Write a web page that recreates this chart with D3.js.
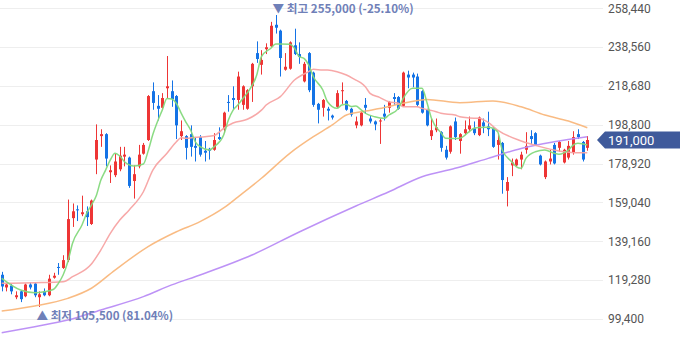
<!DOCTYPE html>
<html><head><meta charset="utf-8">
<script src="https://cdn.jsdelivr.net/npm/d3@7"></script>
<style>html,body{margin:0;padding:0;background:#fff;}svg{display:block;}</style>
</head><body>
<svg id="chart" width="680" height="358"></svg>
<script>
// ---- data ----
const opens  = [122000,115500,116500,110500,113500,111000,117000,117500,110500,113500,111500,120500,126000,125500,129500,151000,155500,153000,154500,148000,181000,193000,194000,174500,173000,176000,182500,182000,170000,177500,184000,191000,216000,208500,207500,217500,216000,213500,193000,193000,194000,188000,192500,185500,186500,186000,192500,196500,210500,212500,211500,209000,207000,218500,235500,229500,237500,239000,250000,247000,227000,227500,239500,235000,221000,235500,225500,209500,207500,207000,203500,208000,216000,211000,207000,198500,198500,209000,202000,200500,200500,204500,207500,213000,213000,208500,224500,224500,223500,216000,206500,193000,196000,195000,186000,185000,200500,190500,194500,196500,197000,193500,200000,198000,197000,188500,189500,165000,178000,178000,181000,186000,193000,194500,183000,172000,180000,188500,187000,179500,182000,184500,194000,190000,187000];
const highs  = [123500,117500,117500,113500,114000,117500,118000,118000,113500,115000,122000,123000,128000,132000,160500,158500,157500,162500,157000,160500,199000,196500,194500,178000,184000,187500,187500,182500,178000,188500,189500,214000,220500,214000,215000,234000,221500,214000,201000,193500,198500,192500,193500,190500,187000,194500,197500,205500,214000,218500,226000,219000,217000,230500,241500,237000,240500,251500,255000,247500,235500,241500,248000,241000,231000,236000,226000,210000,212000,208000,204000,216500,220500,211500,207500,203000,205500,212500,203500,201000,202000,209000,211000,215000,213500,226000,226500,225500,225000,216500,207000,202000,202000,195500,188000,198500,202500,194500,201000,203000,200500,203000,202000,205500,197500,194500,190000,172000,181500,181500,185000,195000,196000,195000,183500,180500,186000,189500,190500,186500,190500,195500,196500,190500,193000];
const lows   = [113500,113500,112000,109500,108000,110500,114500,110500,105500,111000,111000,120000,122000,125000,128500,146500,149500,152000,147000,147500,173500,187500,177500,169000,172000,175000,177500,166500,161000,176500,183500,190500,206500,201000,206500,212500,208000,191500,191000,181000,182500,180000,182500,180000,181000,185500,191000,194500,205500,206500,206500,206500,206500,210500,230500,224500,235000,238500,245500,223500,226500,227000,234500,230000,220500,215500,208000,199500,203000,201000,201500,207500,209500,206000,203000,197000,198000,204500,199500,196000,189000,201000,205000,209000,206500,208000,217500,218000,208000,204500,198000,191000,195000,185000,181000,184000,191000,184000,193500,195000,193500,193000,194500,193000,187000,181000,163500,157000,172500,177500,176000,184000,189000,188000,178000,171000,178500,178500,185000,179000,181000,183500,191500,180000,185500];
const closes = [116000,117000,113500,111500,109500,117000,115500,111500,112000,111500,120000,121500,125500,129500,150500,154500,155000,154000,151500,160000,191000,194000,181500,175500,180000,183000,183500,167500,173500,183500,188500,213500,210000,207000,212500,218500,212000,198500,195500,187000,187500,187000,183500,184500,185500,191000,191500,205000,210000,211500,223500,218500,216500,230000,232500,232000,238500,249500,248500,233000,228500,241000,235000,233500,230000,216500,209000,206500,211500,206000,202500,215000,216500,206500,204000,200500,205000,207500,200500,199000,201000,203000,210500,212000,207000,225500,223000,223000,209000,205000,198500,196000,197500,187000,182000,198000,192500,194000,196500,198500,194500,202500,198000,196500,187500,191000,170500,169500,179500,181000,183500,188000,191500,188500,178500,180000,181500,179000,190000,186000,188000,192500,192500,181000,191000];

// moving-average lines as [candle index, price]
const ma5 = [[0,120200],[4,114200],[7,112800],[9,113300],[11,114600],[12,117600],[13,121900],[14,128700],[15,138100],[17,147500],[18,153500],[19,157700],[20,162300],[21,170500],[22,175600],[23,180800],[24,184200],[25,182800],[26,179900],[28,177700],[30,178700],[31,185300],[32,193800],[33,200500],[34,206300],[35,212300],[36,212000],[37,209700],[38,204800],[39,200200],[40,196100],[41,190100],[42,187600],[44,185900],[45,187600],[47,193600],[48,201200],[49,206300],[50,208900],[51,212000],[52,215100],[54,224300],[55,233700],[57,238000],[58,240200],[59,240200],[61,240000],[62,238000],[63,233700],[64,232800],[65,229400],[66,223400],[68,216600],[69,210600],[71,207200],[72,208900],[73,209300],[74,208100],[75,208400],[76,206700],[77,204700],[79,202900],[81,202100],[82,203800],[84,207200],[85,212200],[87,217500],[89,217500],[90,210600],[91,202100],[93,194800],[94,191900],[96,191800],[97,191900],[99,195300],[100,197000],[101,197400],[103,197500],[105,195300],[106,185900],[108,179900],[109,177300],[110,176500],[111,181600],[113,185000],[115,185900],[117,184200],[118,183700],[120,185900],[121,188400],[122,189300],[124,188400]];
const ma20 = [[0,117600],[7,117900],[13,118400],[15,121000],[19,127500],[21,134700],[23,143200],[25,150000],[27,155200],[30,164500],[32,175600],[35,184200],[37,190100],[38,192200],[39,191900],[41,192400],[43,192700],[45,193300],[47,197000],[49,199700],[52,201600],[55,206300],[56,208900],[59,213200],[62,221700],[65,226000],[66,227200],[68,226800],[69,226800],[71,226000],[73,224300],[75,221700],[76,220400],[77,218300],[78,214900],[80,212800],[82,210600],[84,209800],[85,208000],[88,208000],[89,207200],[92,205500],[93,204700],[96,203800],[97,202900],[99,202300],[101,202100],[103,200000],[105,196100],[110,190500],[114,187600],[118,185400],[122,184500],[124,184500]];
const ma60 = [[0,103400],[7,106000],[14,109900],[19,115100],[24,124400],[31,136400],[37,144000],[42,149200],[47,156200],[50,161800],[55,171400],[61,184200],[66,192700],[70,198700],[73,203800],[77,205800],[80,207100],[85,209800],[90,211800],[97,210100],[104,211000],[110,208000],[115,203800],[120,200700],[124,197300]];
const ma120 = [[0,92300],[7,95400],[14,98800],[21,104000],[30,110800],[36,116800],[42,121900],[53,132100],[63,143900],[75,157200],[82,164500],[89,172200],[96,176500],[103,181600],[110,186700],[117,190100],[124,192700]];

const yTicks = [99400,119280,139160,159040,178920,198800,218680,238560,258440];
const highLabel = "▼ 최고 255,000 (-25.10%)";
const lowLabel  = "▲ 최저 105,500 (81.04%)";

// ---- drawing ----
const svg = d3.select("#chart");
const n = closes.length;
const x = d3.scaleBand().domain(d3.range(n)).range([-0.66, 589.66]);
const bw = x.bandwidth();
const cx = i => x(i) + bw / 2;
const y = d3.scaleLinear().domain([99400, 258440]).range([318.9, 8.3]);

const RED = "#ee3535", BLUE = "#1473e6";

// grid
svg.append("g").selectAll("line").data(yTicks).join("line")
  .attr("x1", 0).attr("x2", 603)
  .attr("y1", d => Math.round(y(d)) + 0.5).attr("y2", d => Math.round(y(d)) + 0.5)
  .attr("stroke", "#eeeeee").attr("stroke-width", 1);

// axis labels
const axis = d3.axisRight(y).tickValues(yTicks).tickSize(0).tickPadding(0)
  .tickFormat(d3.format(","));
const ag = svg.append("g").attr("transform", "translate(608,0)").call(axis);
ag.select(".domain").remove();
ag.selectAll("text").attr("font-family", "Roboto, 'Noto Sans', sans-serif")
  .attr("font-size", 12).attr("fill", "#555").attr("x", 0);

// candles
const cg = svg.append("g");
const idx = d3.range(n);
cg.selectAll("line").data(idx).join("line")
  .attr("x1", i => Math.round(cx(i)) + 0.5).attr("x2", i => Math.round(cx(i)) + 0.5)
  .attr("y1", i => y(highs[i])).attr("y2", i => y(lows[i]))
  .attr("stroke", i => closes[i] >= opens[i] ? RED : BLUE).attr("stroke-width", 1);
cg.selectAll("rect").data(idx).join("rect")
  .attr("x", i => Math.round(cx(i)) - 1).attr("width", 3)
  .attr("y", i => y(Math.max(opens[i], closes[i])))
  .attr("height", i => Math.max(1, Math.abs(y(opens[i]) - y(closes[i]))))
  .attr("fill", i => closes[i] >= opens[i] ? RED : BLUE);

// moving averages
const line = d3.line().x(d => cx(d[0])).y(d => y(d[1])).curve(d3.curveMonotoneX);
[[ma120, "#b98cf6"], [ma60, "#f9b77c"], [ma20, "#f7a3a3"], [ma5, "#84d97c"]].forEach(([data, col]) => {
  svg.append("path").datum(data).attr("d", line)
    .attr("fill", "none").attr("stroke", col).attr("stroke-width", 1.5).attr("stroke-opacity", 0.95);
});

// high / low labels
const iHigh = d3.maxIndex(highs), iLow = d3.minIndex(lows);
const lblFont = "'Noto Sans CJK KR', 'Noto Sans', sans-serif";
svg.append("text").attr("x", cx(iHigh) - 3).attr("y", 13)
  .attr("font-family", lblFont).attr("font-size", 11.6).attr("font-weight", "bold")
  .attr("fill", "#6f80b8").text(highLabel);
svg.append("text").attr("x", cx(iLow) - 3).attr("y", 320)
  .attr("font-family", lblFont).attr("font-size", 11.6).attr("font-weight", "bold")
  .attr("fill", "#6f80b8").text(lowLabel);

// current price tag
const last = closes[n - 1];
const ty = y(last);
svg.append("path")
  .attr("d", `M597,${ty} L605,${ty - 8.5} L680,${ty - 8.5} L680,${ty + 8.5} L605,${ty + 8.5} Z`)
  .attr("fill", "#3f5a9b");
svg.append("text").attr("x", 608).attr("y", ty + 4.5)
  .attr("font-family", "Roboto, 'Noto Sans', sans-serif").attr("font-size", 13)
  .attr("fill", "#fff").text(d3.format(",")(last));
</script>
</body></html>
